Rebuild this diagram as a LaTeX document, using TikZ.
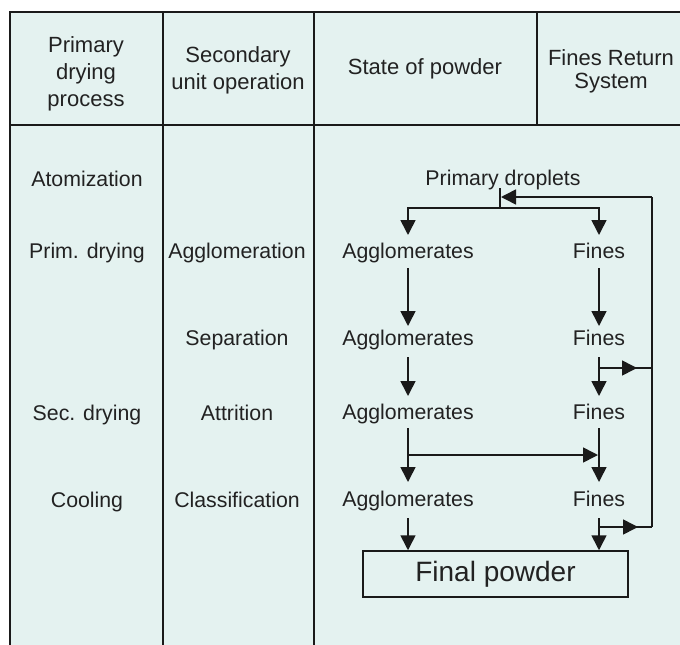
\documentclass[tikz,border=0pt]{standalone}
\usepackage{fontspec}
\setmainfont{Liberation Sans}
\usetikzlibrary{arrows.meta}
\definecolor{bgc}{HTML}{E4F2F0}
\definecolor{ink}{HTML}{1A1A1A}
\definecolor{txt}{HTML}{222222}
\tikzset{
  lbl/.style={anchor=base, inner sep=0pt, text=txt, font=\fontsize{21.3}{24}\selectfont},
  hdr/.style={lbl, font=\fontsize{22}{24}\selectfont},
  grid/.style={draw=ink, line width=2.2pt},
  conn/.style={draw=ink, line width=1.6pt},
  arr/.style={conn, -{Triangle[width=15pt,length=15pt]}},
  box/.style={draw=ink, line width=1.5pt, minimum width=265pt, minimum height=46pt, inner sep=0pt, text=txt, font=\fontsize{28}{30}\selectfont}
}
\begin{document}
\begin{tikzpicture}[x=1pt,y=-1pt]
\useasboundingbox (0,0) rectangle (680,645);
\fill[white] (0,0) rectangle (680,645);
\fill[bgc] (10,12) rectangle (680,645);
% table lines
\draw[grid] (10,645) -- (10,12) -- (680,12);
\draw[grid] (10,125) -- (680,125);
\draw[grid] (163,12) -- (163,645);
\draw[grid] (314,12) -- (314,645);
\draw[grid] (537,12) -- (537,125);
% header
\node[hdr] (h1a) at (86,52) {Primary};
\node[hdr] (h1b) at (86,79) {drying};
\node[hdr] (h1c) at (86,106) {process};
\node[hdr] (h2a) at (238,62) {Secondary};
\node[hdr] (h2b) at (238,89) {unit operation};
\node[hdr] (h3) at (425,74) {State of powder};
\node[hdr] (h4a) at (611,65) {Fines Return};
\node[hdr] (h4b) at (611,88) {System};
% left columns
\node[lbl] (p1) at (87,186) {Atomization};
\node[lbl] (p2) at (87,258) {Prim. drying};
\node[lbl] (p3) at (87,420) {Sec. drying};
\node[lbl] (p4) at (87,507) {Cooling};
\node[lbl] (s1) at (237,258) {Agglomeration};
\node[lbl] (s2) at (237,345) {Separation};
\node[lbl] (s3) at (237,420) {Attrition};
\node[lbl] (s4) at (237,507) {Classification};
% state of powder
\node[lbl] (pd) at (503,185) {Primary droplets};
\node[lbl] (a1) at (408,258) {Agglomerates};
\node[lbl] (a2) at (408,345) {Agglomerates};
\node[lbl] (a3) at (408,419) {Agglomerates};
\node[lbl] (a4) at (408,506) {Agglomerates};
\node[lbl] (f1) at (599,258) {Fines};
\node[lbl] (f2) at (599,345) {Fines};
\node[lbl] (f3) at (599,419) {Fines};
\node[lbl] (f4) at (599,506) {Fines};
\node[box] (fp) at (495.5,574) {Final powder};
% coordinates
\coordinate (tk) at (500,188);
\coordinate (sp) at (500,208);
\coordinate (rt) at (652,197);
\coordinate (rb) at (652,527);
\coordinate (r2) at (652,368);
\coordinate (b2) at (599,368);
\coordinate (b3) at (408,455);
\coordinate (b4) at (599,527);
% connectors
\draw[conn] (tk) -- (sp);
\draw[arr] (sp) -| (408,235);
\draw[arr] (sp) -| (599,235);
\draw[conn] (rb) -- (rt);
\draw[arr] (rt) -- (501,197);
\draw[arr] (408,268) -- (408,326);
\draw[arr] (599,268) -- (599,326);
\draw[arr] (408,357) -- (408,396);
\draw[arr] (599,357) -- (599,396);
\draw[conn] (b2) -- (r2);
\draw[arr] (b2) -- (637,368);
\draw[arr] (408,428) -- (408,482);
\draw[arr] (599,428) -- (599,482);
\draw[arr] (b3) -- (598,455);
\draw[arr] (408,518) -- (fp.north -| 408,0);
\draw[arr] (599,518) -- (fp.north -| 599,0);
\draw[conn] (b4) -- (rb);
\draw[arr] (b4) -- (638,527);
\end{tikzpicture}
\end{document}
